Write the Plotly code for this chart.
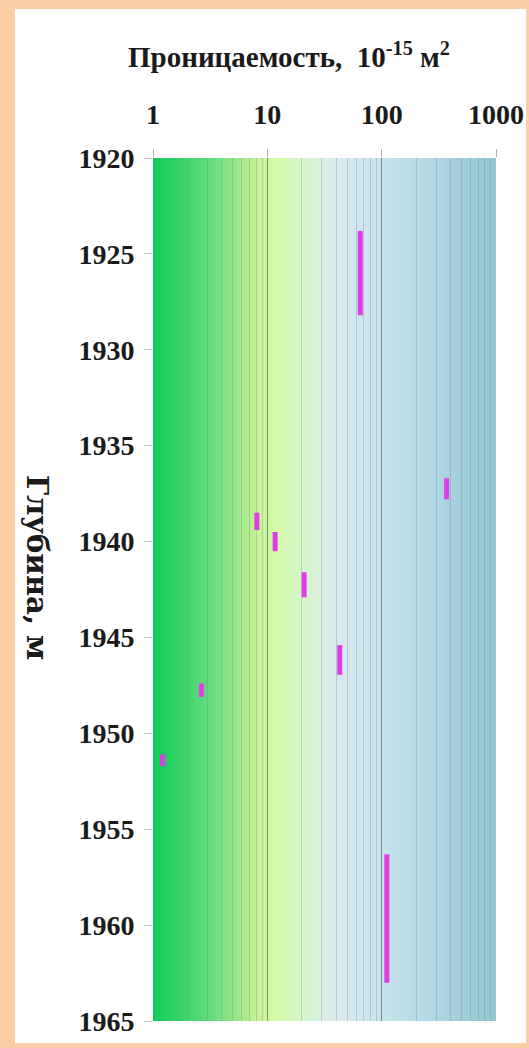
import numpy as np
import plotly.graph_objects as go

# Permeability intervals: value (10^-15 m^2) and depth range (m)
permeability = [65, 370, 8.1, 11.7, 21, 43, 2.65, 1.21, 111]
depth_top = [1923.8, 1936.7, 1938.5, 1939.5, 1941.6, 1945.4, 1947.4, 1951.1, 1956.3]
depth_bottom = [1928.2, 1937.8, 1939.4, 1940.5, 1942.9, 1946.95, 1948.1, 1951.7, 1963.0]

x_tick_values = [1, 10, 100, 1000]
x_tick_labels = ["1", "10", "100", "1000"]
y_tick_values = [1920, 1925, 1930, 1935, 1940, 1945, 1950, 1955, 1960, 1965]

# Background colour ramp across the permeability scale (log10 position -> colour)
ramp_pos = [0.0, 0.25, 0.55, 0.80, 0.90, 1.05, 1.35, 1.52, 1.70, 2.0, 2.3, 2.6, 3.0]
ramp_rgb = [
    (16, 202, 90), (56, 212, 106), (110, 222, 130), (168, 234, 140),
    (196, 242, 148), (212, 252, 164), (214, 244, 208), (220, 238, 232),
    (214, 232, 240), (198, 228, 236), (184, 220, 230), (168, 210, 224),
    (148, 198, 212),
]

FONT = "Liberation Serif"
PEACH = "#F9CFA8"

fig = go.Figure()

# White panel inside the peach frame (drawn first so the gradient sits on it)
fig.add_shape(
    type="rect", xref="paper", yref="paper",
    x0=-0.4023, x1=1.0875, y0=-0.0255, y1=1.1727,
    fillcolor="white", line_width=0, layer="below",
)

# Gradient background strips drawn under the grid (slightly overlapping to avoid seams)
edges = np.linspace(0, 3, 151)
ramp = np.array(ramp_rgb, dtype=float)
for a, b in zip(edges[:-1], edges[1:]):
    m = 0.5 * (a + b)
    col = [np.interp(m, ramp_pos, ramp[:, i]) for i in range(3)]
    hi = min(b + 0.01, 3.0)
    fig.add_shape(
        type="rect", xref="x", yref="paper",
        x0=10 ** a, x1=10 ** hi, y0=0, y1=1,
        fillcolor="rgb(%d,%d,%d)" % tuple(int(round(c)) for c in col),
        line_width=0, layer="below",
    )

# Depth intervals as vertical segments
xs, ys = [], []
for k, t, b in zip(permeability, depth_top, depth_bottom):
    xs += [k, k, None]
    ys += [t, b, None]
fig.add_trace(go.Scatter(
    x=xs, y=ys, mode="lines",
    line=dict(color="#E03CE8", width=5),
    showlegend=False, hoverinfo="skip",
))

fig.update_xaxes(
    type="log", range=[0, 3], side="top", automargin=False,
    tickvals=x_tick_values, ticktext=x_tick_labels,
    tickfont=dict(family=FONT, size=28, color="#1a1a1a", weight="bold"),
    ticks="outside", ticklen=8, tickcolor="#b0b0b0", ticklabelstandoff=14,
    showgrid=True, gridcolor="rgba(100,115,105,0.75)", gridwidth=1,
    minor=dict(dtick="D1", showgrid=True, gridcolor="rgba(120,140,130,0.35)",
               gridwidth=1, ticks=""),
    showline=False, zeroline=False,
)
fig.update_yaxes(
    range=[1965, 1920], tickvals=y_tick_values, automargin=False,
    tickfont=dict(family=FONT, size=28, color="#1a1a1a", weight="bold"),
    ticks="outside", ticklen=8, tickcolor="#c0c0c0", ticklabelstandoff=4,
    showgrid=False, showline=False, zeroline=False,
)

fig.add_annotation(
    xref="paper", yref="paper", x=0.3965, y=1.119,
    xanchor="center", yanchor="middle", showarrow=False,
    text="Проницаемость,  10<sup>-15</sup> м<sup>2</sup>",
    font=dict(family=FONT, size=29, color="#1a1a1a", weight="bold"),
)
fig.add_annotation(
    xref="paper", yref="paper", x=-0.338, y=0.526,
    xanchor="center", yanchor="middle", showarrow=False, textangle=90,
    text="Глубина, м",
    font=dict(family="DejaVu Serif", size=29, color="#1a1a1a", weight="bold"),
)

fig.update_layout(
    width=529, height=1048,
    margin=dict(l=153, r=33, t=158, b=27),
    paper_bgcolor=PEACH, plot_bgcolor="rgba(0,0,0,0)",
)

fig.write_html("out.html")
